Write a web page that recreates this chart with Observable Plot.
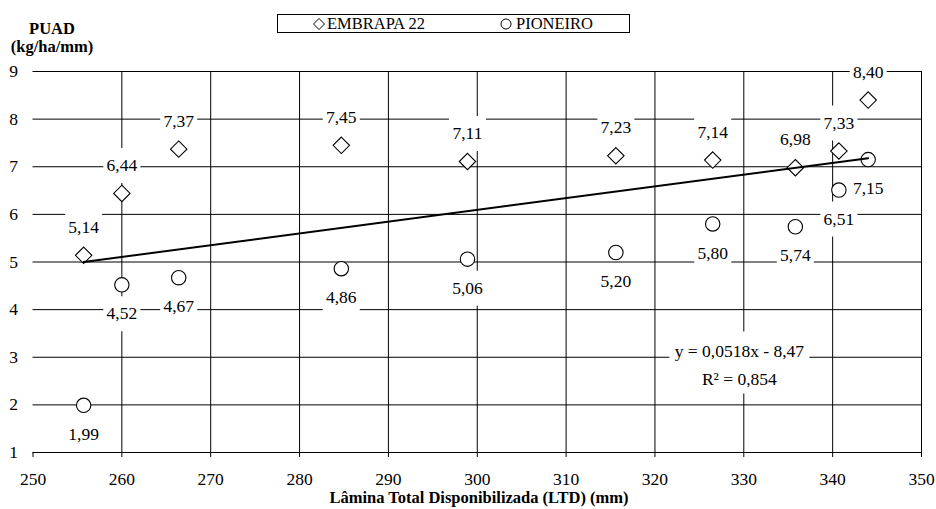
<!DOCTYPE html>
<html>
<head>
<meta charset="utf-8">
<script src="https://cdn.jsdelivr.net/npm/d3@7"></script>
<script src="https://cdn.jsdelivr.net/npm/@observablehq/plot@0.6"></script>
<style>
  html, body { margin: 0; padding: 0; background: #fff; }
  #wrap { position: relative; width: 936px; height: 509px; font-family: "Liberation Serif", "Times New Roman", serif; color: #000; }
  #ytitle { position: absolute; left: 0; top: 20px; width: 104px; text-align: center; font-weight: bold; font-size: 16.5px; line-height: 18px; }
  #xtitle { position: absolute; left: 179px; top: 489px; width: 600px; text-align: center; font-weight: bold; font-size: 16.5px; line-height: 18px; }
  #legend { position: absolute; left: 277px; top: 14px; width: 351px; height: 17px; border: 1px solid #000; font-size: 16.5px; }
  #legend span.t { position: absolute; top: -1px; line-height: 19px; }
  #legend svg { position: absolute; top: 2px; }
</style>
</head>
<body>
<div id="wrap">
  <div id="chart"></div>
  <div id="ytitle">PUAD<br>(kg/ha/mm)</div>
  <div id="xtitle">Lâmina Total Disponibilizada (LTD) (mm)</div>
  <div id="legend">
    <svg style="left:34px" width="14" height="14"><path d="M7,1.5L12.5,7L7,12.5L1.5,7Z" fill="none" stroke="#000" stroke-width="1"/></svg>
    <span class="t" style="left:49px">EMBRAPA 22</span>
    <svg style="left:221px" width="14" height="14"><circle cx="7" cy="7" r="5" fill="none" stroke="#000" stroke-width="1"/></svg>
    <span class="t" style="left:238px">PIONEIRO</span>
  </div>
</div>
<script>
// ---- data ----
const ltd      = [255.7, 260.0, 266.4, 284.7, 298.9, 315.6, 326.5, 335.8, 340.7, 344.0];
const embrapa  = [5.14, 6.44, 7.37, 7.45, 7.11, 7.23, 7.14, 6.98, 7.33, 8.40];
const pioneiro = [1.99, 4.52, 4.67, 4.86, 5.06, 5.20, 5.80, 5.74, 6.51, 7.15];
const trendX   = [255.7, 344.0];
const trendY   = [5.00, 7.18];
const xTicks   = [250, 260, 270, 280, 290, 300, 310, 320, 330, 340, 350];
const yTicks   = [1, 2, 3, 4, 5, 6, 7, 8, 9];
const equation = "y = 0,0518x - 8,47\nR² = 0,854";
const eqPos    = {x: 329.5, y: 2.89};

const rows  = ltd.map((x, i) => ({x, e: embrapa[i], p: pioneiro[i]}));
const trend = trendX.map((x, i) => ({x, y: trendY[i]}));
const fmt = v => v.toFixed(2).replace(".", ",");

const rectSymbol = (w, h) => ({draw(ctx) { ctx.rect(-w / 2, -h / 2, w, h); }});
const FS = 17.5;

const chart = Plot.plot({
  width: 936,
  height: 509,
  marginLeft: 32.5,
  marginRight: 15,
  marginTop: 71,
  marginBottom: 57,
  style: {fontFamily: "Liberation Serif, Times New Roman, serif", fontSize: FS + "px", color: "#000", background: "#fff"},
  x: {domain: [250, 350], axis: null},
  y: {domain: [1, 9], axis: null},
  marks: [
    Plot.ruleX(xTicks.slice(1), {y1: 1, y2: 9, stroke: "#000", strokeWidth: 1}),
    Plot.ruleY(yTicks, {x1: 250, x2: 350, stroke: "#000", strokeWidth: 1}),
    Plot.axisX({ticks: xTicks, tickSize: 5, tickPadding: 15, fontSize: FS, label: null, tickFormat: d => d}),
    Plot.axisY({ticks: yTicks, tickSize: 0, tickPadding: 15, fontSize: FS, label: null, tickFormat: d => d}),
    // label backgrounds
    Plot.dot(rows, {x: "x", y: "e", dy: -28, symbol: rectSymbol(37, 35), fill: "#fff", stroke: null}),
    Plot.dot(rows, {x: "x", y: "p", dy: 29, symbol: rectSymbol(37, 35), fill: "#fff", stroke: null}),
    Plot.dot([eqPos], {x: "x", y: "y", symbol: rectSymbol(140, 62), fill: "#fff", stroke: null}),
    // labels
    Plot.text(rows, {x: "x", y: "e", dy: -28, text: d => fmt(d.e), fontSize: FS, fill: "#000"}),
    Plot.text(rows, {x: "x", y: "p", dy: 29, text: d => fmt(d.p), fontSize: FS, fill: "#000"}),
    Plot.text([eqPos], {x: "x", y: "y", text: () => equation, fontSize: FS, lineHeight: 1.6, fill: "#000"}),
    // markers
    Plot.dot(rows, {x: "x", y: "p", r: 7.2, fill: "#fff", stroke: "#000", strokeWidth: 1.1}),
    Plot.dot(rows, {x: "x", y: "e", r: 7.4, symbol: "diamond2", fill: "#fff", stroke: "#000", strokeWidth: 1.1}),
    // trend line
    Plot.line(trend, {x: "x", y: "y", stroke: "#000", strokeWidth: 2})
  ]
});
document.getElementById("chart").appendChild(chart);
</script>
</body>
</html>
